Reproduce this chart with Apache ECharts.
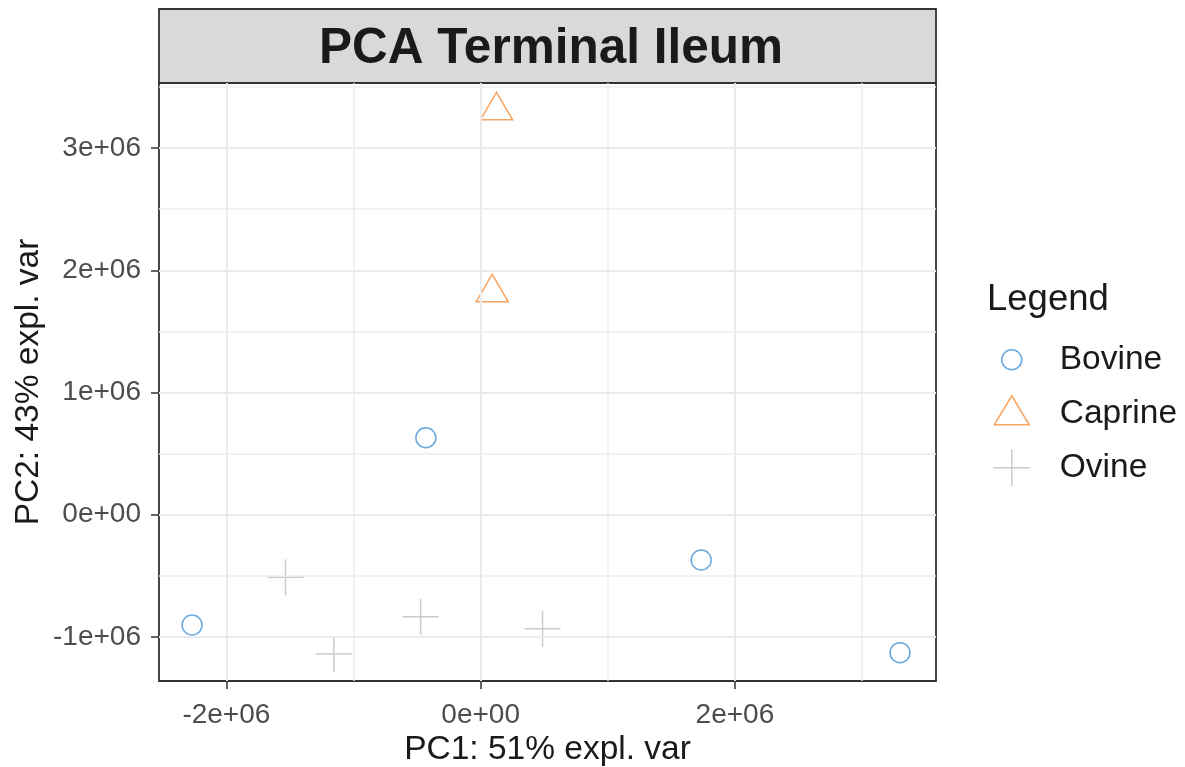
<!DOCTYPE html>
<html>
<head>
<meta charset="utf-8">
<script src="https://cdn.jsdelivr.net/npm/echarts@6/dist/echarts.min.js"></script>
<style>html,body{margin:0;padding:0;background:#fff}#c{width:1185px;height:767px}</style>
</head>
<body>
<div id="c"></div>
<script>
// ---- data ----
const bovineX  = [-431000, -2270000, 1735000, 3299000];
const bovineY  = [630000, -902000, -370000, -1128000];
const caprineX = [125000, 91000];
const caprineY = [3306000, 1817000];
const ovineX   = [-1535000, -1155000, -472000, 487000];
const ovineY   = [-512000, -1139000, -834000, -932000];

const xTicks = [-2000000, 0, 2000000];
const xTickLabels = ['-2e+06', '0e+00', '2e+06'];
const yTicks = [-1000000, 0, 1000000, 2000000, 3000000];
const yTickLabels = ['-1e+06', '0e+00', '1e+06', '2e+06', '3e+06'];
const xMinor = [-1000000, 1000000, 3000000];
const yMinor = [-500000, 500000, 1500000, 2500000, 3500000];
const xRange = [-2530000, 3582000];
const yRange = [-1360000, 3532000];

const seriesNames = ['Bovine', 'Caprine', 'Ovine'];
const colors = ['#4394d8', '#f68d3a', '#bdbdbd'];

const FONT = '"Liberation Sans", Arial, sans-serif';
const zip = (a, b) => a.map((v, i) => [v, b[i]]);

const gridLines = [];
xTicks.forEach(v => gridLines.push({xAxis: v, lineStyle: {width: 2, color: '#ebebeb'}}));
yTicks.forEach(v => gridLines.push({yAxis: v, lineStyle: {width: 2, color: '#ebebeb'}}));
xMinor.forEach(v => gridLines.push({xAxis: v, lineStyle: {width: 1.5, color: '#ededed'}}));
yMinor.forEach(v => gridLines.push({yAxis: v, lineStyle: {width: 1.5, color: '#ededed'}}));

const plusPath = 'path://M0,-1L0,1M-1,0L1,0';
const legendIcons = [
  'path://M-31,-19M31,19M-2,0A10,10,0,1,1,-22,0A10,10,0,1,1,-2,0Z',
  'path://M-31,-19M31,19M-12,-18L5.5,11L-29.5,11Z',
  'path://M-31,-19M31,19M-12,-18.5L-12,18.5M-30.5,0L6.5,0'
];

const chart = echarts.init(document.getElementById('c'), null, {renderer: 'canvas'});
chart.setOption({
  backgroundColor: '#ffffff',
  animation: false,
  textStyle: {fontFamily: FONT},
  title: [
    {text: 'PCA Terminal Ileum', left: 551, top: 24, textAlign: 'center', padding: 0,
     textStyle: {fontFamily: FONT, fontSize: 49.5, fontWeight: 'bold', color: '#1a1a1a'}},
    {text: 'Legend', left: 987, top: 281, padding: 0,
     textStyle: {fontFamily: FONT, fontSize: 36.5, fontWeight: 'normal', color: '#1a1a1a'}}
  ],
  graphic: [{
    type: 'rect', z: -1,
    shape: {x: 159, y: 9, width: 777, height: 74},
    style: {fill: '#d9d9d9', stroke: '#333333', lineWidth: 1.8}
  }],
  legend: {
    orient: 'vertical', left: 992, top: 340, padding: 0,
    itemWidth: 62, itemHeight: 38, itemGap: 14.5,
    selectedMode: false,
    textStyle: {fontFamily: FONT, fontSize: 33.5, color: '#1a1a1a', padding: [3, 0, 0, 0]},
    data: seriesNames.map((n, i) => ({
      name: n, icon: legendIcons[i],
      itemStyle: {color: 'rgba(0,0,0,0)', borderColor: colors[i], borderWidth: 1.5}
    }))
  },
  grid: {left: 159, top: 83, width: 777, height: 598, show: true,
         containLabel: false, outerBoundsMode: 'none',
         borderColor: '#333333', borderWidth: 1.8, backgroundColor: '#ffffff'},
  xAxis: {
    type: 'value', min: xRange[0], max: xRange[1],
    name: 'PC1: 51% expl. var', nameLocation: 'middle', nameGap: 52, nameMoveOverlap: false,
    nameTextStyle: {fontFamily: FONT, fontSize: 33.5, color: '#1a1a1a'},
    axisLine: {show: false, onZero: false},
    splitLine: {show: false},
    axisTick: {show: true, length: 8, customValues: xTicks, lineStyle: {color: '#333333', width: 1.5}},
    axisLabel: {customValues: xTicks, margin: 20, fontSize: 28, fontFamily: FONT, color: '#4d4d4d',
      formatter: v => { const i = xTicks.indexOf(v); return i >= 0 ? xTickLabels[i] : ''; }}
  },
  yAxis: {
    type: 'value', min: yRange[0], max: yRange[1],
    name: 'PC2: 43% expl. var', nameLocation: 'middle', nameGap: 113, nameRotate: 90, nameMoveOverlap: false,
    nameTextStyle: {fontFamily: FONT, fontSize: 33.5, color: '#1a1a1a'},
    axisLine: {show: false, onZero: false},
    splitLine: {show: false},
    axisTick: {show: true, length: 8, customValues: yTicks, lineStyle: {color: '#333333', width: 1.5}},
    axisLabel: {customValues: yTicks, margin: 18, fontSize: 28, fontFamily: FONT, color: '#4d4d4d',
      padding: [3, 0, 0, 0],
      formatter: v => { const i = yTicks.indexOf(v); return i >= 0 ? yTickLabels[i] : ''; }}
  },
  series: [
    {type: 'scatter', name: '_grid', data: [], z: 1, silent: true,
     markLine: {silent: true, symbol: ['none', 'none'], label: {show: false}, animation: false,
       lineStyle: {type: 'solid'}, emphasis: {disabled: true}, data: gridLines}},
    {type: 'scatter', name: 'Bovine', z: 3, data: zip(bovineX, bovineY),
     symbol: 'circle', symbolSize: 20,
     itemStyle: {color: 'rgba(0,0,0,0)', borderColor: colors[0], borderWidth: 1.5}},
    {type: 'scatter', name: 'Caprine', z: 3, data: zip(caprineX, caprineY),
     symbol: 'triangle', symbolSize: [32, 27.5], symbolOffset: [0, -4.6],
     itemStyle: {color: 'rgba(0,0,0,0)', borderColor: colors[1], borderWidth: 1.5}},
    {type: 'scatter', name: 'Ovine', z: 3, data: zip(ovineX, ovineY),
     symbol: plusPath, symbolSize: 36,
     itemStyle: {color: 'rgba(0,0,0,0)', borderColor: colors[2], borderWidth: 1.5}}
  ]
});
</script>
</body>
</html>
